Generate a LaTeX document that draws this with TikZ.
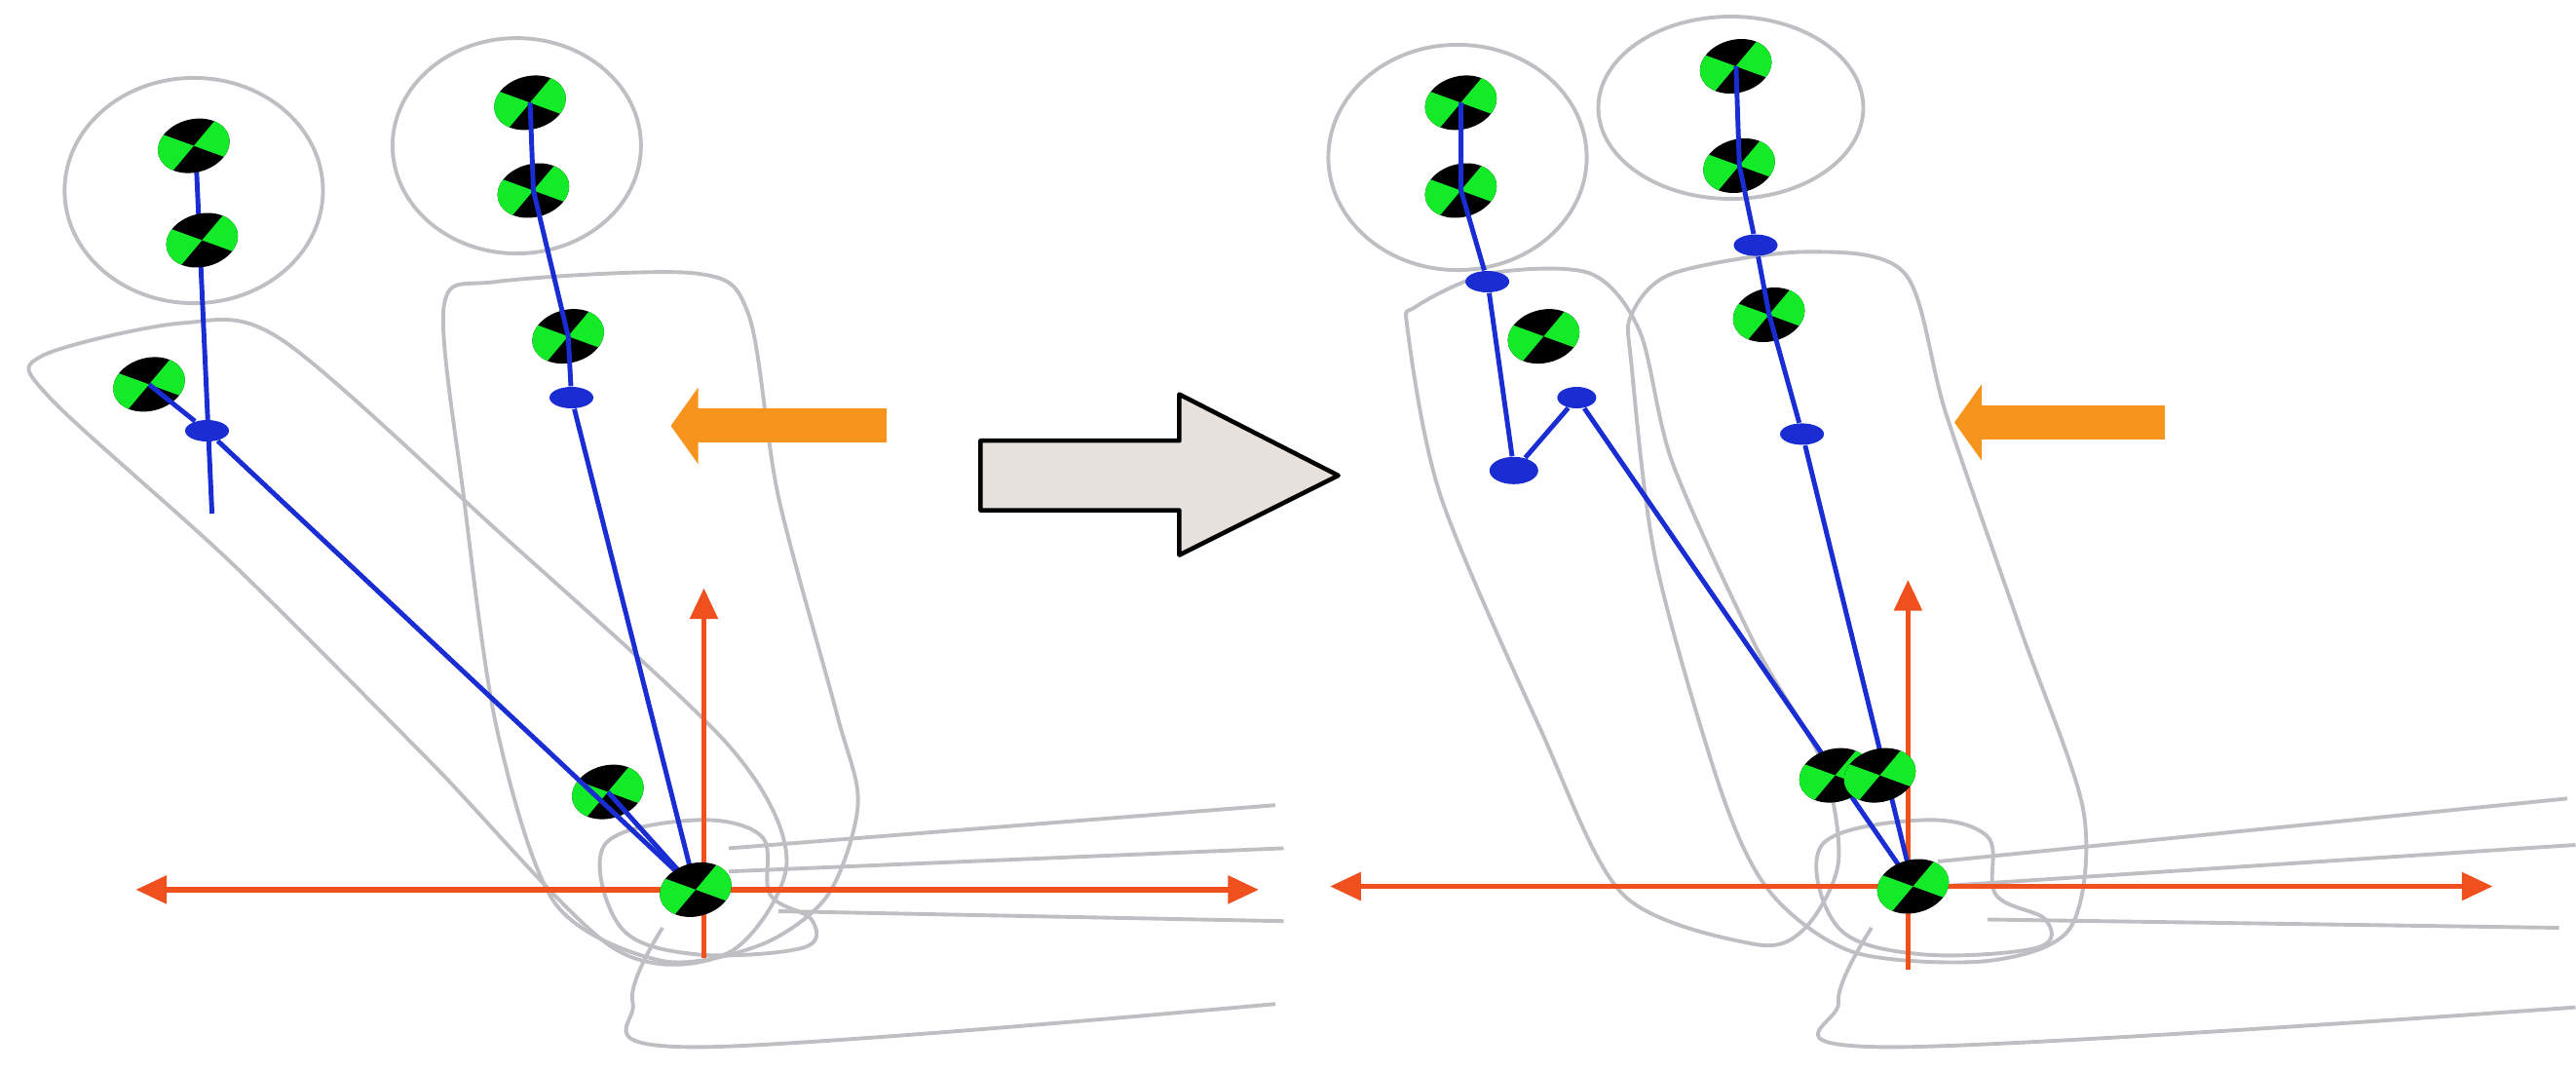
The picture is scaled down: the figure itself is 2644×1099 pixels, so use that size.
\documentclass[tikz,border=0pt]{standalone}
\usepackage{tikz}
\usetikzlibrary{arrows.meta,shapes.geometric}
\definecolor{cgreen}{RGB}{20,235,40}
\definecolor{cblue}{RGB}{25,45,210}
\definecolor{cred}{RGB}{240,80,30}
\definecolor{corange}{RGB}{247,148,29}
\definecolor{cgray}{RGB}{190,190,195}
\definecolor{cfill}{RGB}{230,225,220}
% tracking marker: black ellipse with two green sectors
\newcommand\trackmark[2]{%
  \coordinate (#1) at (#2);
  \begin{scope}[shift={(#2)},rotate=15]
    \fill[black] (0,0) ellipse [x radius=22,y radius=16];
    \begin{scope}
      \clip (0,0) ellipse [x radius=22,y radius=16];
      \fill[cgreen] (0,0) -- (145:40) -- (215:40) -- cycle;
      \fill[cgreen] (0,0) -- (-35:40) -- (35:40) -- cycle;
    \end{scope}
  \end{scope}}
\begin{document}
\begin{tikzpicture}[x=0.01cm,y=-0.01cm,
  outline/.style={cgray,line width=1.1pt,line join=round},
  link/.style={cblue,line width=1.4pt},
  dot/.style={fill=cblue,ellipse,inner sep=0pt,minimum width=0.45cm,minimum height=0.22cm},
  axis/.style={cred,line width=1.5pt,-{Triangle[length=9pt,width=8pt]}},
  force/.style={corange,line width=10pt,-{Triangle[length=8pt,width=22pt]}}]
\useasboundingbox (0,0) rectangle (2644,1099);
\begin{scope}[scale=1.7]
% ---- left panel ----
\draw[outline] (117,115) ellipse [x radius=78,y radius=68];
\draw[outline] (312,88) ellipse [x radius=75,y radius=65];
\draw[outline] plot[smooth cycle,tension=0.5] coordinates {(25,215) (110,195) (170,205) (300,320) (440,450) (475,520) (440,575) (370,572) (260,460) (140,340) (30,240)};
\draw[outline] plot[smooth cycle,tension=0.5] coordinates {(268,185) (300,170) (420,165) (452,190) (470,300) (505,430) (518,485) (500,540) (460,570) (400,580) (335,545) (300,440) (280,300)};
\draw[outline] plot[smooth cycle,tension=0.6] coordinates {(365,510) (420,495) (460,505) (465,540) (490,555) (485,572) (420,576) (375,560)};
\draw[outline] plot[smooth,tension=0.6] coordinates {(400,560) (382,605) (420,632) (770,606)};
\draw[outline] (440,512) -- (770,486);
\draw[outline] (440,526) -- (775,512);
\draw[outline] (470,550) -- (775,556);
\draw[axis,{Triangle[length=9pt,width=8pt]}-{Triangle[length=9pt,width=8pt]}] (82,537) -- (760,537);
\draw[axis] (425,578) -- (425,355);
\draw[link] (118,88) -- (128,310);
\trackmark{la1}{117,88}
\trackmark{la2}{122,145}
\trackmark{la3}{90,232}
\trackmark{lb1}{320,62}
\trackmark{lb2}{322,115}
\trackmark{lb3}{343,203}
\trackmark{lc}{367,478}
\node[dot] (ld1) at (125,260) {};
\node[dot] (ld2) at (345,240) {};
\draw[link] (la3) -- (ld1) -- (420,537);
\draw[link] (lb1) -- (lb2) -- (lb3) -- (ld2) -- (420,537);
\draw[link] (lc) -- (420,537);
\trackmark{lj}{420,537}
\draw[force] (535,257) -- (405,257);
% ---- block arrow ----
\draw[fill=cfill,line width=1.3pt,line join=round] (592,266) -- (712,266) -- (712,238) -- (808,287) -- (712,335) -- (712,308) -- (592,308) -- cycle;
% ---- right panel ----
\draw[outline] (880,95) ellipse [x radius=78,y radius=68];
\draw[outline] (1045,65) ellipse [x radius=80,y radius=55];
\draw[outline] plot[smooth cycle,tension=0.5] coordinates {(855,185) (900,165) (960,165) (990,200) (1010,280) (1060,390) (1100,460) (1110,520) (1090,560) (1060,570) (980,540) (930,440) (870,300) (850,200)};
\draw[outline] plot[smooth cycle,tension=0.5] coordinates {(985,190) (1010,165) (1090,152) (1150,165) (1175,250) (1220,380) (1258,490) (1250,560) (1200,580) (1120,575) (1070,540) (1040,480) (1000,340) (985,220)};
\draw[outline] plot[smooth cycle,tension=0.6] coordinates {(1100,510) (1160,495) (1200,505) (1205,540) (1235,555) (1230,572) (1160,576) (1110,560)};
\draw[outline] plot[smooth,tension=0.6] coordinates {(1130,560) (1110,605) (1140,632) (1555,608)};
\draw[outline] (1170,520) -- (1550,482);
\draw[outline] (1170,535) -- (1555,510);
\draw[outline] (1200,555) -- (1545,560);
\draw[axis,{Triangle[length=9pt,width=8pt]}-{Triangle[length=9pt,width=8pt]}] (803,535) -- (1505,535);
\draw[axis] (1152,585) -- (1152,350);
\trackmark{ra1}{882,62}
\trackmark{ra2}{882,115}
\trackmark{ra3}{932,203}
\trackmark{rb1}{1048,40}
\trackmark{rb2}{1050,100}
\trackmark{rb3}{1068,190}
\node[dot] (rd1) at (898,170) {};
\node[dot,minimum width=0.5cm,minimum height=0.28cm] (rd2) at (914,284) {};
\node[dot,minimum width=0.4cm] (rd3) at (952,240) {};
\node[dot] (rd4) at (1060,148) {};
\node[dot] (rd5) at (1088,262) {};
\coordinate (rj0) at (1155,535);
\draw[link] (ra1) -- (ra2) -- (rd1) -- (rd2) -- (rd3) -- (rj0);
\draw[link] (rb1) -- (rb2) -- (rd4) -- (rb3) -- (rd5) -- (rj0);
\trackmark{rc1}{1108,468}
\trackmark{rc2}{1135,468}
\trackmark{rj}{1155,535}
\draw[force] (1307,255) -- (1180,255);
\end{scope}
\end{tikzpicture}
\end{document}
